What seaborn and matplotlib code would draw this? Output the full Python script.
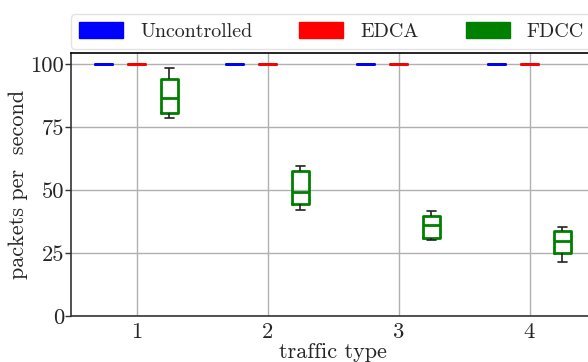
import matplotlib
matplotlib.use("Agg")
import matplotlib.pyplot as plt
from matplotlib.patches import Patch
import numpy as np
import pandas as pd
import seaborn as sns

# traffic types on the x axis
traffic_types = [1, 2, 3, 4]
schemes = ["Uncontrolled", "EDCA", "FDCC"]
scheme_colors = ["#0000ff", "#ff0000", "#008000"]

# per-run packet rates (five runs per traffic type) for each scheme
uncontrolled_rates = [
    [100, 100, 100, 100, 100],
    [100, 100, 100, 100, 100],
    [100, 100, 100, 100, 100],
    [100, 100, 100, 100, 100],
]
edca_rates = [
    [100, 100, 100, 100, 100],
    [100, 100, 100, 100, 100],
    [100, 100, 100, 100, 100],
    [100, 100, 100, 100, 100],
]
fdcc_rates = [
    [78.4, 80.4, 86.6, 94.2, 98.5],
    [41.9, 44.4, 49.3, 57.5, 59.6],
    [30.2, 31.1, 36.2, 39.8, 41.8],
    [21.4, 25.1, 29.9, 33.7, 35.3],
]

y_ticks = [0, 25, 50, 75, 100]

rows = []
for name, series in zip(schemes, [uncontrolled_rates, edca_rates, fdcc_rates]):
    for t, vals in zip(traffic_types, series):
        for v in vals:
            rows.append({"traffic": t, "scheme": name, "rate": v})
df = pd.DataFrame(rows)

sns.set_theme(style="whitegrid")
plt.rcParams["font.family"] = ["cmr10", "DejaVu Serif"]
plt.rcParams["mathtext.fontset"] = "cm"
plt.rcParams["axes.formatter.use_mathtext"] = True

fig = plt.figure(figsize=(5.88, 3.62), dpi=100)
ax = fig.add_axes([71 / 588, 46 / 362, 524 / 588, 263 / 362])

sns.boxplot(
    data=df, x="traffic", y="rate", hue="scheme",
    hue_order=schemes, palette=scheme_colors,
    native_scale=True, width=0.75, gap=0.48, fill=False,
    whis=(0, 100), linewidth=2,
    whiskerprops={"color": "#222222", "linewidth": 1.2},
    capprops={"color": "#222222", "linewidth": 1.2},
    legend=False, ax=ax,
)

ax.set_xlim(0.5, 4.5)
ax.set_ylim(0, 104.4)
ax.set_xticks(traffic_types)
ax.set_xticklabels([str(t) for t in traffic_types])
ax.set_yticks(y_ticks)
ax.set_yticklabels([str(v) for v in y_ticks])
ax.tick_params(axis="both", labelsize=16.3, length=4, width=1, color="#333333",
               left=True, bottom=False, pad=1)
ax.set_xlabel("traffic type", fontsize=16, labelpad=0)
ax.set_ylabel("packets per  second", fontsize=16, labelpad=2)
ax.grid(True, color="#b0b0b0", linewidth=1)
for side, sp in ax.spines.items():
    sp.set_visible(True)
    sp.set_linewidth(1.2)
    sp.set_color("#333333")
ax.spines["top"].set_color("black")

handles = [Patch(facecolor=c, edgecolor=c) for c in scheme_colors]
fig.legend(
    handles, schemes, loc="lower left", bbox_to_anchor=(71 / 588, 313 / 362),
    ncol=3, fontsize=14.4, frameon=True, handlelength=2.2, handleheight=0.85,
    handletextpad=0.85, columnspacing=2.35, borderaxespad=0,
    edgecolor="#dddddd", fancybox=True,
)

fig.savefig("out.png", dpi=100)
